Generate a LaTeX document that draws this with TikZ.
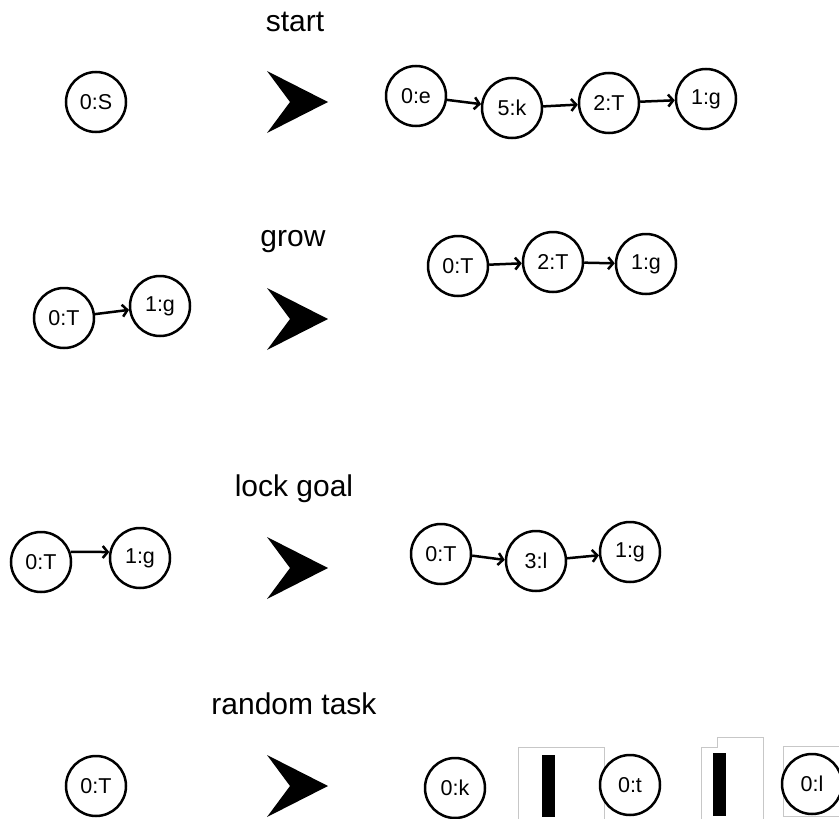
\documentclass[tikz,border=0pt]{standalone}
\usepackage{fontspec}
\setmainfont{Liberation Sans}
\usetikzlibrary{arrows.meta}
\begin{document}
\begin{tikzpicture}[x=1pt,y=-1pt,
  nd/.style={circle,draw,line width=2.5pt,fill=white,minimum size=60pt,inner sep=0pt,font=\fontsize{21.5}{25}\selectfont},
  ttl/.style={anchor=base,inner sep=0pt,font=\fontsize{30}{36}\selectfont},
  lnk/.style={line width=2.5pt,-{Straight Barb[length=5pt,width=12pt]}},
  frm/.style={draw=black!22,line width=1pt},
  chev/.pic={\fill (-61,-31) -- (0,0) -- (-61,31) -- (-38,0) -- cycle;}]
\useasboundingbox (0,0) rectangle (839,819);
\clip (0,0) rectangle (839,819);

% titles
\node[ttl] (tstart) at (295,31) {start};
\node[ttl] (tgrow) at (293,246) {grow};
\node[ttl] (tlock) at (294,496) {lock goal};
\node[ttl] (trand) at (294,714) {random task};

% chevrons
\pic at (328,102) {chev};
\pic at (328,319) {chev};
\pic at (328,568) {chev};
\pic at (328,786) {chev};

% row 1
\node[nd] (s0) at (96,102) {0:S};
\node[nd] (r1a) at (416,96) {0:e};
\node[nd] (r1b) at (512,108) {5:k};
\node[nd] (r1c) at (609,103) {2:T};
\node[nd] (r1d) at (706,99) {1:g};
\draw[lnk] (r1a) -- (r1b);
\draw[lnk] (r1b) -- (r1c);
\draw[lnk] (r1c) -- (r1d);

% row 2
\node[nd] (g0a) at (64,318) {0:T};
\node[nd] (g0b) at (160,306) {1:g};
\draw[lnk] (g0a) -- (g0b);
\node[nd] (g1a) at (458,266) {0:T};
\node[nd] (g1b) at (553,262) {2:T};
\node[nd] (g1c) at (646,264) {1:g};
\draw[lnk] (g1a) -- (g1b);
\draw[lnk] (g1b) -- (g1c);

% row 3
\node[nd] (l0a) at (41,562) {0:T};
\node[nd] (l0b) at (140,558) {1:g};
\draw[lnk] (l0a.19) -- (l0b.169);
\node[nd] (l1a) at (441,554) {0:T};
\node[nd] (l1b) at (536,561) {3:l};
\node[nd] (l1c) at (630,552) {1:g};
\draw[lnk] (l1a.-3) -- (l1b.178);
\draw[lnk] (l1b.5) -- (l1c.186);

% row 4 frames and bars
\draw[frm] (518,825) -- (518,747) -- (604,747) -- (604,825);
\fill (542,755) rectangle (555,817);
\draw[frm] (701,825) -- (701,747) -- (717,747) -- (717,737) -- (763,737) -- (763,825);
\fill (713,753) rectangle (726,816);
\draw[frm] (845,746) -- (783,746) -- (783,816) -- (845,816);

% row 4 nodes
\node[nd] (t0) at (96,786) {0:T};
\node[nd] (t1) at (455,788) {0:k};
\node[nd] (t2) at (630,785) {0:t};
\node[nd] (t3) at (812,784) {0:l};
\end{tikzpicture}
\end{document}
